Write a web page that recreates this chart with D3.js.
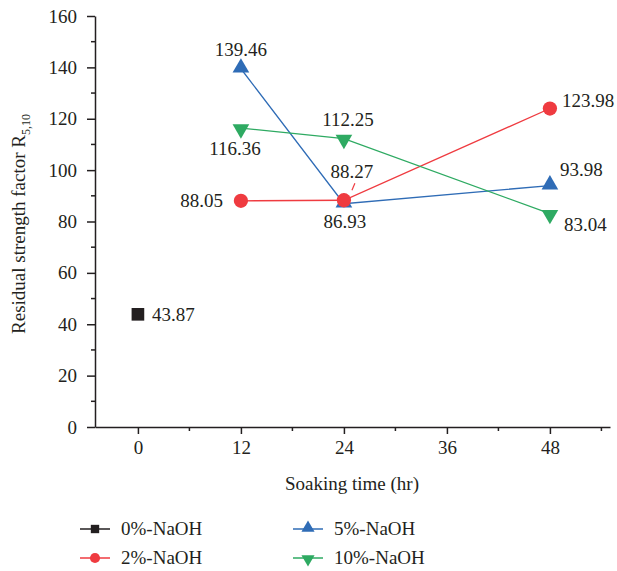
<!DOCTYPE html>
<html>
<head>
<meta charset="utf-8">
<script src="https://cdn.jsdelivr.net/npm/d3@7/dist/d3.min.js"></script>
<style>
  html, body { margin: 0; padding: 0; background: #fff; }
  svg text { font-family: "Liberation Serif", "Times New Roman", serif; fill: #231f20; }
</style>
</head>
<body>
<svg id="chart" width="617" height="571"></svg>
<script>
// Soaking time (hr) for each series
const times0 = [0];
const times = [12, 24, 48];

// Residual strength factor R5,10 for each NaOH concentration
const naoh0 = [43.87];
const naoh2 = [88.05, 88.27, 123.98];
const naoh5 = [139.46, 86.93, 93.98];
const naoh10 = [116.36, 112.25, 83.04];

const seriesNames = ["0%-NaOH", "2%-NaOH", "5%-NaOH", "10%-NaOH"];
const xTicks = [0, 12, 24, 36, 48];
const yTicks = [0, 20, 40, 60, 80, 100, 120, 140, 160];

const colors = { black: "#231f20", red: "#ef3b40", blue: "#2f6cb6", green: "#2eaa62" };

const svg = d3.select("#chart");
const margin = { left: 95, right: 610, top: 16, bottom: 427 };

const x = d3.scaleLinear().domain([-5, 55]).range([margin.left, margin.right]);
const y = d3.scaleLinear().domain([0, 160]).range([margin.bottom, margin.top]);

const FS = 19;

// ---- Axes ----
const xAxis = d3.axisBottom(x).tickValues(xTicks).tickSize(7).tickPadding(7).tickSizeOuter(0);
const gx = svg.append("g").attr("transform", `translate(0,${margin.bottom})`).call(xAxis);
gx.selectAll(".tick text").style("font-size", FS + "px");
// minor x ticks
svg.append("g").selectAll("line").data([6, 18, 30, 42, 54]).join("line")
  .attr("x1", d => x(d)).attr("x2", d => x(d))
  .attr("y1", margin.bottom).attr("y2", margin.bottom + 4)
  .attr("stroke", colors.black).attr("stroke-width", 1.5);

const yAxis = d3.axisLeft(y).tickValues(yTicks).tickSize(8).tickPadding(10).tickSizeOuter(0);
const gy = svg.append("g").attr("transform", `translate(${margin.left},0)`).call(yAxis);
gy.selectAll(".tick text").style("font-size", FS + "px");
svg.append("g").selectAll("line").data(d3.range(10, 160, 20)).join("line")
  .attr("x1", margin.left - 4).attr("x2", margin.left)
  .attr("y1", d => y(d)).attr("y2", d => y(d))
  .attr("stroke", colors.black).attr("stroke-width", 1.5);

[gx, gy].forEach(g => {
  g.select(".domain").attr("stroke", colors.black).attr("stroke-width", 1.5);
  g.selectAll(".tick line").attr("stroke", colors.black).attr("stroke-width", 1.5);
  g.selectAll(".tick text").attr("fill", colors.black).style("font-family", '"Liberation Serif", serif');
});

// Axis titles
svg.append("text")
  .attr("x", 352).attr("y", 490)
  .attr("text-anchor", "middle")
  .style("font-size", FS + "px")
  .text("Soaking time (hr)");

const yt = svg.append("text")
  .attr("transform", "translate(25,224) rotate(-90)")
  .attr("text-anchor", "middle")
  .style("font-size", FS + "px");
yt.append("tspan").text("Residual strength factor R");
yt.append("tspan").attr("dy", 5).style("font-size", "12px").text("5,10");

// ---- Marker shapes ----
const sym = {
  square: d3.symbol().type(d3.symbolSquare).size(160),
  circle: d3.symbol().type(d3.symbolCircle).size(160),
  up: d3.symbol().type(d3.symbolTriangle).size(120),
};
function marker(g, kind, cx, cy, color) {
  if (kind === "down") {
    g.append("path").attr("d", sym.up())
      .attr("transform", `translate(${cx},${cy + 1}) rotate(180)`).attr("fill", color);
  } else if (kind === "up") {
    g.append("path").attr("d", sym.up())
      .attr("transform", `translate(${cx},${cy - 1})`).attr("fill", color);
  } else {
    g.append("path").attr("d", sym[kind]())
      .attr("transform", `translate(${cx},${cy})`).attr("fill", color);
  }
}

const line = d3.line().x(d => x(d[0])).y(d => y(d[1]));

const series = [
  { name: seriesNames[0], t: times0, v: naoh0, color: colors.black, shape: "square" },
  { name: seriesNames[1], t: times, v: naoh2, color: colors.red, shape: "circle" },
  { name: seriesNames[2], t: times, v: naoh5, color: colors.blue, shape: "up" },
  { name: seriesNames[3], t: times, v: naoh10, color: colors.green, shape: "down" },
];

const plot = svg.append("g");
series.forEach(s => {
  const pts = s.t.map((t, i) => [t, s.v[i]]);
  if (pts.length > 1) {
    plot.append("path").attr("d", line(pts))
      .attr("fill", "none").attr("stroke", s.color).attr("stroke-width", 1.3);
  }
});
// draw markers: green, blue, red, black (red on top of blue at 24 h)
[3, 2, 1, 0].forEach(k => {
  const s = series[k];
  s.t.forEach((t, i) => marker(plot, s.shape, x(t), y(s.v[i]), s.color));
});

// ---- Value labels ----
// [seriesIndex, pointIndex, dx, dy, anchor]
const labelPlacement = [
  [0, 0, 14, 7, "start"],
  [1, 0, -18, 6, "end"],
  [1, 1, 8, -22, "middle"],
  [1, 2, 12, -2, "start"],
  [2, 0, 0, -13, "middle"],
  [2, 1, 1, 24, "middle"],
  [2, 2, 10, -10, "start"],
  [3, 0, -6, 27, "middle"],
  [3, 1, 4, -13, "middle"],
  [3, 2, 14, 17, "start"],
];
const lbl = svg.append("g");
labelPlacement.forEach(([si, pi, dx, dy, anchor]) => {
  const s = series[si];
  lbl.append("text")
    .attr("x", x(s.t[pi]) + dx).attr("y", y(s.v[pi]) + dy)
    .attr("text-anchor", anchor)
    .style("font-size", FS + "px")
    .text(s.v[pi].toFixed(2));
});
// short leader from the 88.27 label to its marker
lbl.append("line")
  .attr("x1", x(24) + 8).attr("y1", y(naoh2[1]) - 10)
  .attr("x2", x(24) + 11).attr("y2", y(naoh2[1]) - 17)
  .attr("stroke", colors.red).attr("stroke-width", 1.2);

// ---- Legend ----
const legendPos = [
  { lx: 80, ty: 529 }, { lx: 80, ty: 558 },
  { lx: 293, ty: 529 }, { lx: 293, ty: 558 },
];
const legend = svg.append("g");
series.forEach((s, i) => {
  const p = legendPos[i];
  legend.append("line")
    .attr("x1", p.lx).attr("x2", p.lx + 30)
    .attr("y1", p.ty).attr("y2", p.ty)
    .attr("stroke", s.color).attr("stroke-width", 1.5);
  const g = legend.append("g");
  const small = {
    square: d3.symbol().type(d3.symbolSquare).size(70),
    circle: d3.symbol().type(d3.symbolCircle).size(80),
    tri: d3.symbol().type(d3.symbolTriangle).size(75),
  };
  const cx = p.lx + 15;
  if (s.shape === "square") g.append("path").attr("d", small.square()).attr("transform", `translate(${cx},${p.ty})`).attr("fill", s.color);
  else if (s.shape === "circle") g.append("path").attr("d", small.circle()).attr("transform", `translate(${cx},${p.ty})`).attr("fill", s.color);
  else if (s.shape === "up") g.append("path").attr("d", small.tri()).attr("transform", `translate(${cx},${p.ty - 1})`).attr("fill", s.color);
  else g.append("path").attr("d", small.tri()).attr("transform", `translate(${cx},${p.ty + 1}) rotate(180)`).attr("fill", s.color);
  legend.append("text")
    .attr("x", p.lx + 41).attr("y", p.ty + 6)
    .style("font-size", FS + "px")
    .text(s.name);
});
</script>
</body>
</html>
